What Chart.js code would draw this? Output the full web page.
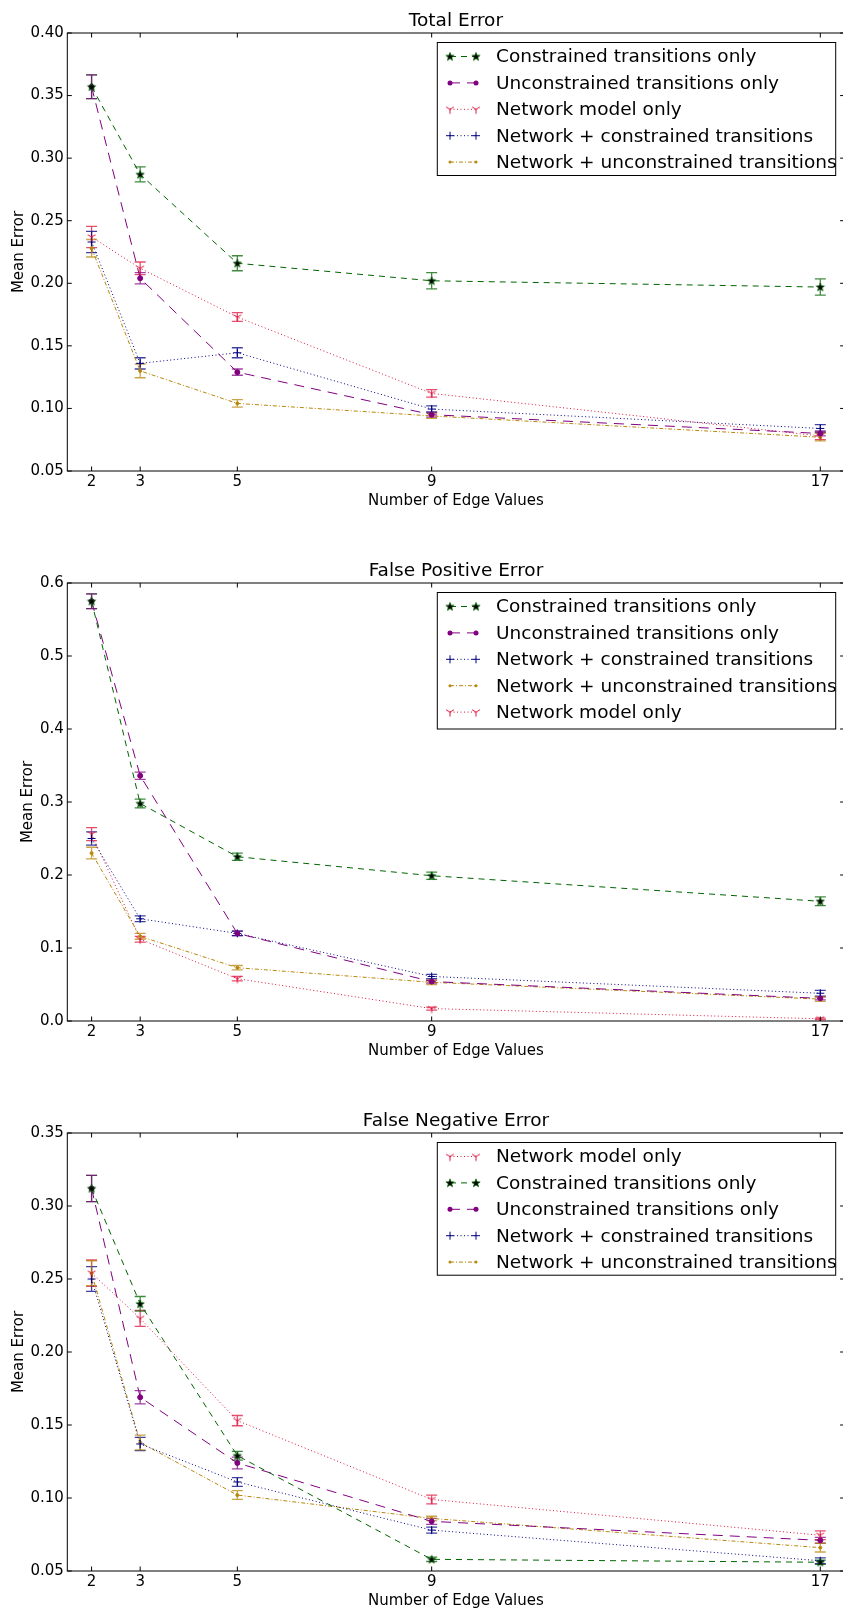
<!DOCTYPE html>
<html>
<head>
<meta charset="utf-8">
<script src="https://cdn.jsdelivr.net/npm/chart.js@4.4.1/dist/chart.umd.min.js"></script>
<style>
html, body { margin: 0; padding: 0; background: #fff; width: 843px; height: 1608px; overflow: hidden; }
.panel { position: absolute; left: 0; }
</style>
</head>
<body>
<canvas id="totalChart" class="panel" width="850" height="540" style="top:0px"></canvas>
<canvas id="fpChart" class="panel" width="850" height="540" style="top:550px"></canvas>
<canvas id="fnChart" class="panel" width="850" height="540" style="top:1100px"></canvas>
<script>
Chart.defaults.font.family = '"DejaVu Sans", sans-serif';
Chart.defaults.color = '#000';

const edgeValues = [2, 3, 5, 9, 17];

// Total error
const totalTicks = [0.05, 0.10, 0.15, 0.20, 0.25, 0.30, 0.35, 0.40];
const totalCon = [0.357, 0.287, 0.216, 0.202, 0.197];
const totalConErr = [0.0095, 0.006, 0.006, 0.0065, 0.0065];
const totalUncon = [0.357, 0.204, 0.129, 0.095, 0.080];
const totalUnconErr = [0.0095, 0.0045, 0.0025, 0.002, 0.002];
const totalNet = [0.237, 0.212, 0.173, 0.112, 0.078];
const totalNetErr = [0.0085, 0.005, 0.0035, 0.003, 0.003];
const totalNetCon = [0.233, 0.136, 0.1445, 0.0995, 0.084];
const totalNetConErr = [0.0085, 0.0045, 0.004, 0.0025, 0.003];
const totalNetUncon = [0.228, 0.130, 0.104, 0.094, 0.077];
const totalNetUnconErr = [0.007, 0.0055, 0.003, 0.002, 0.003];

// False positive error
const fpTicks = [0.0, 0.1, 0.2, 0.3, 0.4, 0.5, 0.6];
const fpCon = [0.575, 0.298, 0.225, 0.199, 0.164];
const fpConErr = [0.01, 0.006, 0.005, 0.005, 0.006];
const fpUncon = [0.575, 0.336, 0.120, 0.054, 0.031];
const fpUnconErr = [0.01, 0.005, 0.003, 0.002, 0.002];
const fpNetCon = [0.250, 0.140, 0.120, 0.061, 0.038];
const fpNetConErr = [0.009, 0.004, 0.003, 0.003, 0.004];
const fpNetUncon = [0.230, 0.116, 0.073, 0.053, 0.030];
const fpNetUnconErr = [0.008, 0.004, 0.003, 0.003, 0.003];
const fpNet = [0.256, 0.112, 0.058, 0.017, 0.003];
const fpNetErr = [0.009, 0.004, 0.003, 0.002, 0.001];

// False negative error
const fnTicks = [0.05, 0.10, 0.15, 0.20, 0.25, 0.30, 0.35];
const fnNet = [0.254, 0.223, 0.153, 0.099, 0.0745];
const fnNetErr = [0.009, 0.0055, 0.0035, 0.003, 0.003];
const fnCon = [0.312, 0.233, 0.129, 0.058, 0.056];
const fnConErr = [0.009, 0.005, 0.003, 0.0015, 0.0015];
const fnUncon = [0.312, 0.169, 0.124, 0.084, 0.071];
const fnUnconErr = [0.009, 0.0045, 0.004, 0.002, 0.002];
const fnNetCon = [0.250, 0.137, 0.111, 0.078, 0.057];
const fnNetConErr = [0.0085, 0.0045, 0.003, 0.002, 0.002];
const fnNetUncon = [0.254, 0.138, 0.102, 0.086, 0.066];
const fnNetUnconErr = [0.0085, 0.005, 0.003, 0.0015, 0.003];

// marker images (star, tri_down)
function makeStar() {
    const c = document.createElement('canvas');
    c.width = c.height = 12;
    const g = c.getContext('2d');
    g.beginPath();
    for (let i = 0; i < 10; i++) {
        const r = i % 2 ? 1.8 : 4.4;
        const a = -Math.PI / 2 + i * Math.PI / 5;
        g.lineTo(6 + r * Math.cos(a), 6.3 + r * Math.sin(a));
    }
    g.closePath();
    g.fillStyle = '#000';
    g.fill();
    g.strokeStyle = '#006400';
    g.lineWidth = 0.7;
    g.stroke();
    return c;
}
function makeTri(color) {
    const c = document.createElement('canvas');
    c.width = c.height = 12;
    const g = c.getContext('2d');
    g.strokeStyle = color;
    g.lineWidth = 1;
    g.beginPath();
    g.moveTo(6, 6); g.lineTo(6, 10.5);
    g.moveTo(6, 6); g.lineTo(2.1, 3.75);
    g.moveTo(6, 6); g.lineTo(9.9, 3.75);
    g.stroke();
    return c;
}

const styles = {
    con:      { label: 'Constrained transitions only', color: '#006400', dash: [6, 5], point: makeStar(), radius: 4 },
    uncon:    { label: 'Unconstrained transitions only', color: '#800080', dash: [10, 7], point: 'circle', radius: 2.5 },
    net:      { label: 'Network model only', color: '#DC143C', dash: [1, 2.5], point: makeTri('#DC143C'), radius: 4 },
    netCon:   { label: 'Network + constrained transitions', color: '#000080', dash: [1, 2.5], point: 'cross', radius: 4 },
    netUncon: { label: 'Network + unconstrained transitions', color: '#B8860B', dash: [4, 2, 1, 2], point: 'circle', radius: 1.5 }
};

function makeDataset(key, means, errs) {
    const s = styles[key];
    return {
        label: s.label,
        data: edgeValues.map((x, i) => ({ x: x, y: means[i] })),
        errors: errs,
        borderColor: s.color,
        backgroundColor: s.color,
        borderWidth: 1,
        borderDash: s.dash,
        pointStyle: s.point,
        pointRadius: s.radius,
        pointBorderWidth: 1,
        pointBorderColor: s.color,
        pointBackgroundColor: s.color,
        tension: 0,
        fill: false
    };
}

const errorBars = {
    id: 'errorBars',
    beforeDatasetsDraw(chart) {
        const { ctx, scales: { x, y } } = chart;
        chart.data.datasets.forEach(ds => {
            ctx.save();
            ctx.strokeStyle = ds.borderColor;
            ctx.globalAlpha = 0.75;
            ctx.lineWidth = 1.3;
            ds.data.forEach((p, i) => {
                const e = ds.errors[i];
                const px = x.getPixelForValue(p.x);
                const top = y.getPixelForValue(p.y + e);
                const bot = y.getPixelForValue(p.y - e);
                ctx.beginPath();
                ctx.moveTo(px, top); ctx.lineTo(px, bot);
                ctx.moveTo(px - 5.5, top); ctx.lineTo(px + 5.5, top);
                ctx.moveTo(px - 5.5, bot); ctx.lineTo(px + 5.5, bot);
                ctx.stroke();
            });
            ctx.restore();
        });
    }
};

const frame = {
    id: 'frame',
    afterDatasetsDraw(chart) {
        const { ctx, chartArea: a, scales: { x, y } } = chart;
        ctx.save();
        ctx.strokeStyle = '#000';
        ctx.lineWidth = 1;
        ctx.strokeRect(a.left, a.top, a.right - a.left, a.bottom - a.top);
        ctx.beginPath();
        x.ticks.forEach(t => {
            const px = x.getPixelForValue(t.value);
            ctx.moveTo(px, a.bottom); ctx.lineTo(px, a.bottom - 4.5);
            ctx.moveTo(px, a.top); ctx.lineTo(px, a.top + 4.5);
        });
        y.ticks.forEach(t => {
            const py = y.getPixelForValue(t.value);
            ctx.moveTo(a.left, py); ctx.lineTo(a.left + 4.5, py);
            ctx.moveTo(a.right, py); ctx.lineTo(a.right - 4.5, py);
        });
        ctx.stroke();
        ctx.restore();
    }
};

function drawMarker(ctx, ds, x, y) {
    const st = ds.pointStyle;
    ctx.save();
    ctx.setLineDash([]);
    ctx.fillStyle = ds.borderColor;
    ctx.strokeStyle = ds.borderColor;
    ctx.lineWidth = 1;
    if (typeof st === 'object') {
        ctx.drawImage(st, x - st.width / 2, y - st.height / 2);
    } else if (st === 'circle') {
        ctx.beginPath();
        ctx.arc(x, y, ds.pointRadius, 0, Math.PI * 2);
        ctx.fill();
    } else if (st === 'cross') {
        const r = ds.pointRadius;
        ctx.beginPath();
        ctx.moveTo(x - r, y); ctx.lineTo(x + r, y);
        ctx.moveTo(x, y - r); ctx.lineTo(x, y + r);
        ctx.stroke();
    }
    ctx.restore();
}

const boxLegend = {
    id: 'boxLegend',
    afterDraw(chart, args, opts) {
        const { ctx, chartArea: a } = chart;
        const left = a.right - opts.offsetRight;
        const top = a.top + opts.offsetTop;
        ctx.save();
        ctx.fillStyle = '#fff';
        ctx.fillRect(left, top, opts.width, opts.height);
        ctx.strokeStyle = '#000';
        ctx.lineWidth = 1;
        ctx.strokeRect(left, top, opts.width, opts.height);
        ctx.font = '18.5px "DejaVu Sans", sans-serif';
        ctx.textBaseline = 'middle';
        chart.data.datasets.forEach((ds, i) => {
            const cy = top + opts.firstRow + i * opts.rowGap;
            const x1 = left + 12.7, x2 = left + 38.7;
            ctx.save();
            ctx.strokeStyle = ds.borderColor;
            ctx.lineWidth = 1;
            ctx.setLineDash(ds.borderDash);
            ctx.beginPath();
            ctx.moveTo(x1, cy); ctx.lineTo(x2, cy);
            ctx.stroke();
            ctx.restore();
            drawMarker(ctx, ds, x1, cy);
            drawMarker(ctx, ds, x2, cy);
            ctx.fillStyle = '#000';
            ctx.fillText(ds.label, left + 58.7, cy + 1);
        });
        ctx.restore();
    }
};

function makeChart(id, title, datasets, yTicks, yMin, yMax, decimals, yTitlePad, legendHeight) {
    return new Chart(document.getElementById(id), {
        type: 'line',
        data: { datasets: datasets },
        plugins: [errorBars, frame, boxLegend],
        options: {
            responsive: false,
            animation: false,
            devicePixelRatio: 1,
            layout: { padding: { left: 0, right: 5.4, top: 0, bottom: 0 } },
            plugins: {
                legend: { display: false },
                tooltip: { enabled: false },
                title: {
                    display: true,
                    text: title,
                    fullSize: false,
                    color: '#000',
                    font: { size: 18.5, weight: 'normal' },
                    padding: { top: 10, bottom: 0.8 }
                },
                boxLegend: { offsetRight: 407.3, offsetTop: 9.5, width: 398.4, height: legendHeight, firstRow: 14, rowGap: 26.4 }
            },
            scales: {
                x: {
                    type: 'linear',
                    min: 1.5,
                    max: 17.5,
                    grid: { display: false, drawTicks: false },
                    border: { display: false },
                    afterBuildTicks: s => { s.ticks = edgeValues.map(v => ({ value: v })); },
                    afterFit: s => { s.height = 69; },
                    ticks: { font: { size: 15 }, padding: 2, color: '#000', maxRotation: 0, autoSkip: false, callback: v => String(v) },
                    title: { display: true, text: 'Number of Edge Values', color: '#000', font: { size: 15 }, padding: { top: 0, bottom: 30 } }
                },
                y: {
                    type: 'linear',
                    min: yMin,
                    max: yMax,
                    grid: { display: false, drawTicks: false },
                    border: { display: false },
                    afterBuildTicks: s => { s.ticks = yTicks.map(v => ({ value: v })); },
                    afterFit: s => { s.width = 67.3; },
                    ticks: { font: { size: 15 }, padding: 3.5, color: '#000', autoSkip: false, callback: v => v.toFixed(decimals) },
                    title: { display: true, text: 'Mean Error', color: '#000', font: { size: 15 }, padding: { top: yTitlePad, bottom: 0 } }
                }
            }
        }
    });
}

makeChart('totalChart', 'Total Error', [
    makeDataset('con', totalCon, totalConErr),
    makeDataset('uncon', totalUncon, totalUnconErr),
    makeDataset('net', totalNet, totalNetErr),
    makeDataset('netCon', totalNetCon, totalNetConErr),
    makeDataset('netUncon', totalNetUncon, totalNetUnconErr)
], totalTicks, 0.05, 0.40, 2, 10, 133);

makeChart('fpChart', 'False Positive Error', [
    makeDataset('con', fpCon, fpConErr),
    makeDataset('uncon', fpUncon, fpUnconErr),
    makeDataset('netCon', fpNetCon, fpNetConErr),
    makeDataset('netUncon', fpNetUncon, fpNetUnconErr),
    makeDataset('net', fpNet, fpNetErr)
], fpTicks, 0.0, 0.6, 1, 19, 136.5);

makeChart('fnChart', 'False Negative Error', [
    makeDataset('net', fnNet, fnNetErr),
    makeDataset('con', fnCon, fnConErr),
    makeDataset('uncon', fnUncon, fnUnconErr),
    makeDataset('netCon', fnNetCon, fnNetConErr),
    makeDataset('netUncon', fnNetUncon, fnNetUnconErr)
], fnTicks, 0.05, 0.35, 2, 10, 132.7);
</script>
</body>
</html>
